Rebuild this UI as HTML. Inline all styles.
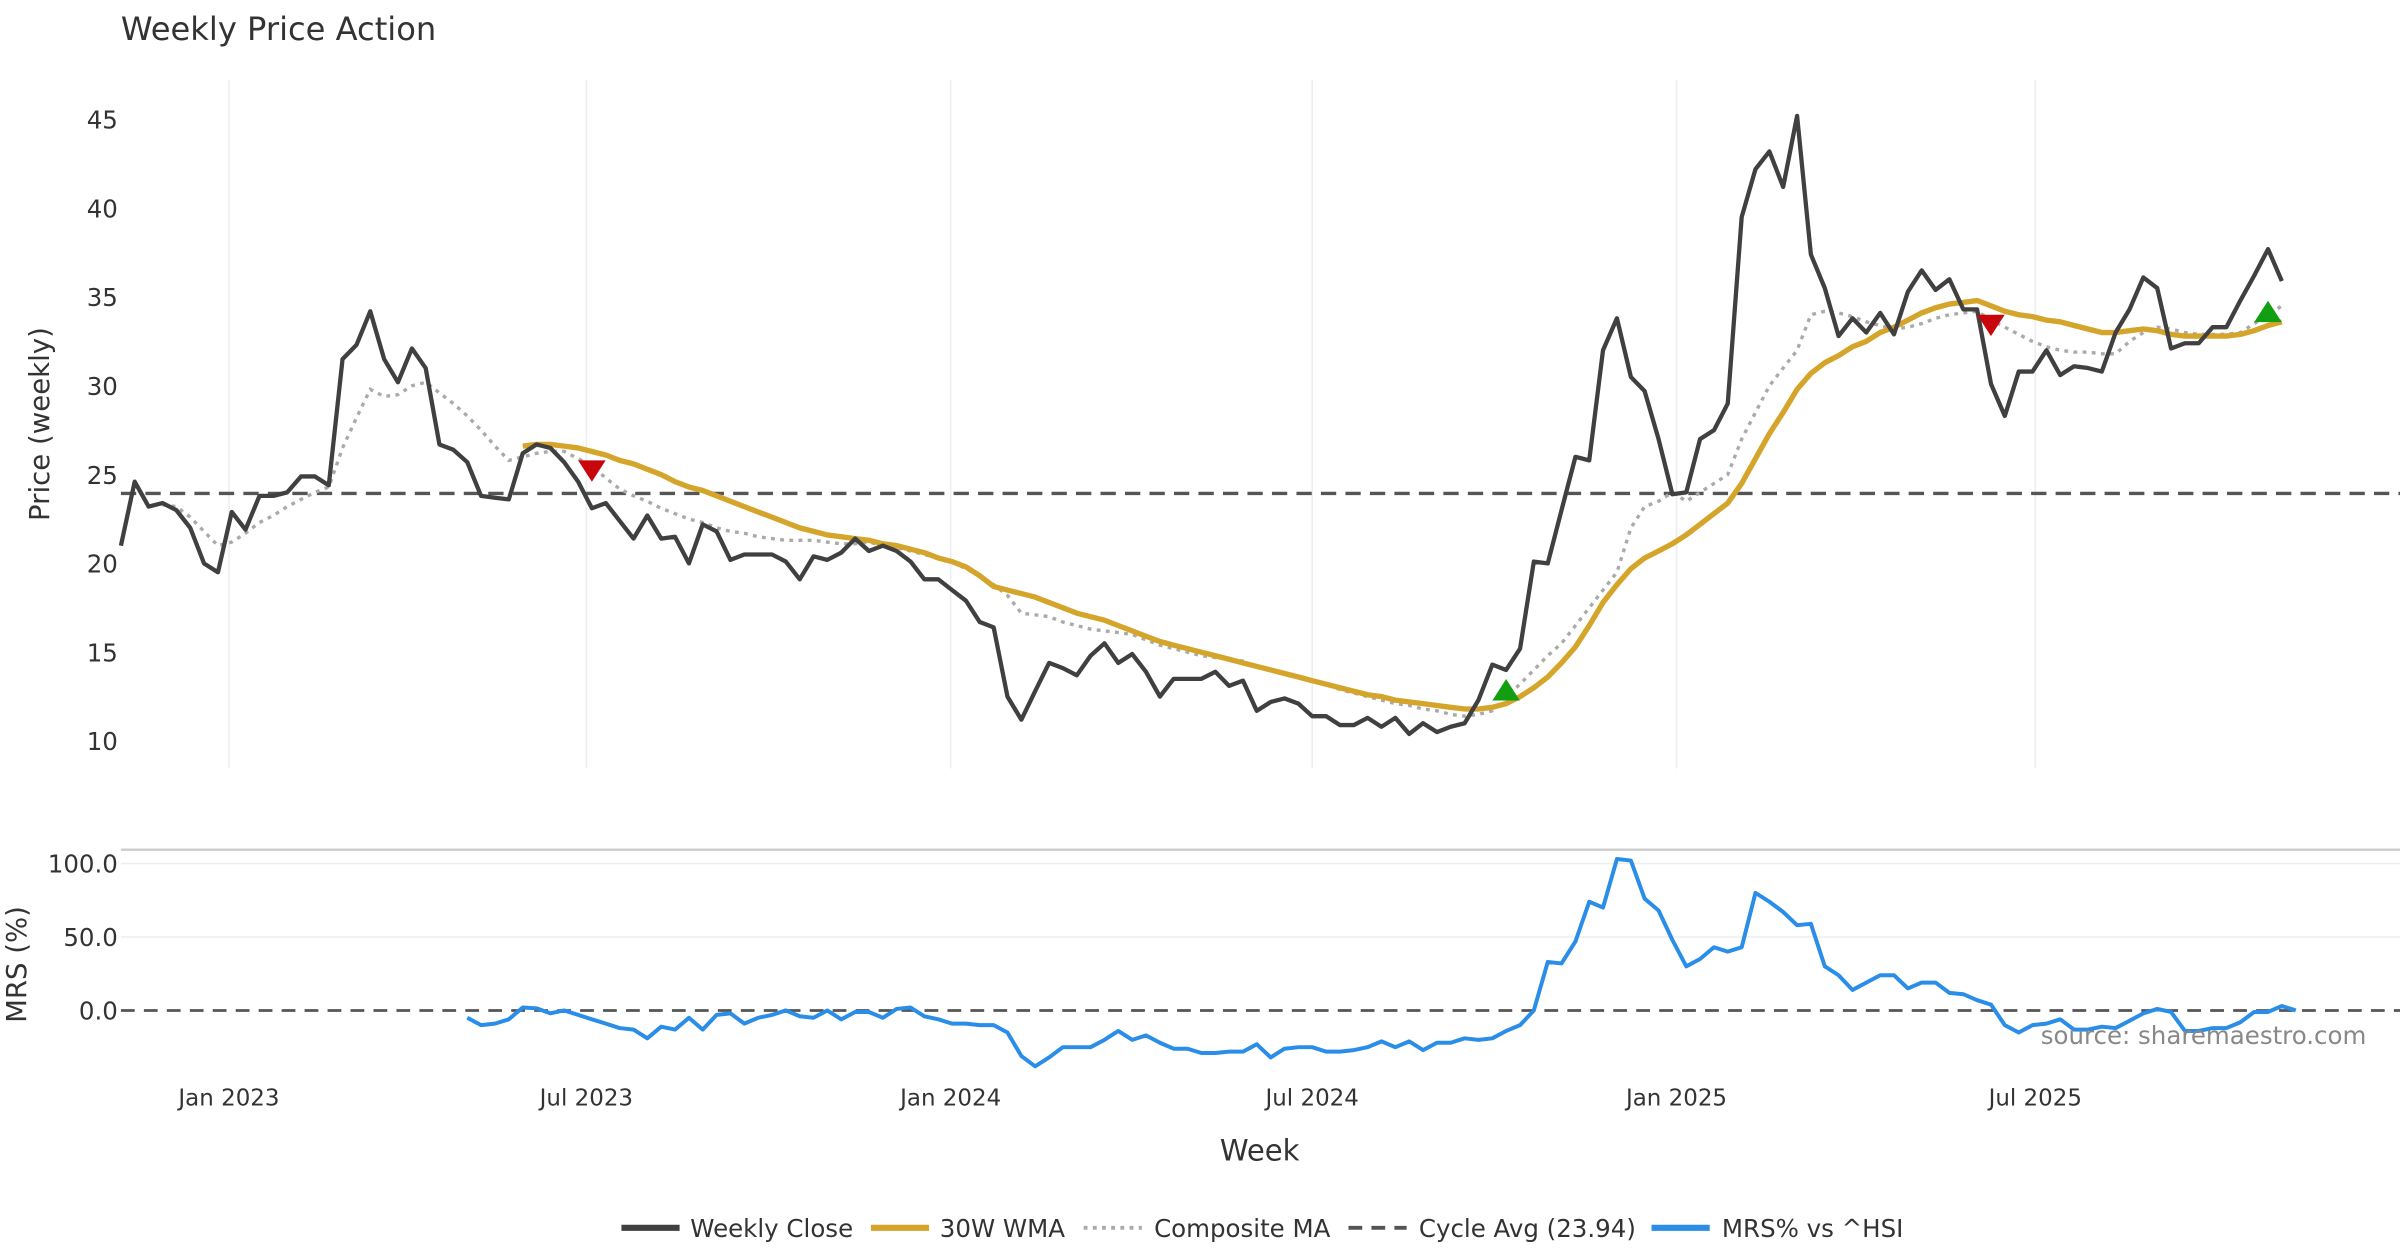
<!DOCTYPE html>
<html><head><meta charset="utf-8"><style>
html,body{margin:0;padding:0;background:#fff;}
svg{display:block;font-family:"DejaVu Sans","Liberation Sans",sans-serif;}
</style></head><body>
<svg id="chart" width="2400" height="1260" viewBox="0 0 1568 823" preserveAspectRatio="none" xmlns="http://www.w3.org/2000/svg">
<text x="79" y="26" font-size="21" fill="#333">Weekly Price Action</text>
<g id="grid"></g>
<g id="series"></g>
<text transform="translate(32,277) rotate(-90)" text-anchor="middle" font-size="18" fill="#333">Price (weekly)</text>
<text transform="translate(17,630) rotate(-90)" text-anchor="middle" font-size="18" fill="#333">MRS (%)</text>
<text x="823" y="758" text-anchor="middle" font-size="19" fill="#333">Week</text>
<text x="1546" y="682" text-anchor="end" font-size="16" fill="#888">source: sharemaestro.com</text>
<g id="legend"></g>
</svg>
<script>
const closes=[21,24.6,23.2,23.4,23,22,20,19.5,22.9,21.9,23.8,23.8,24,24.9,24.9,24.4,31.5,32.3,34.2,31.5,30.2,32.1,31,26.7,26.4,25.7,23.8,23.7,23.6,26.2,26.7,26.5,25.7,24.6,23.1,23.4,22.4,21.4,22.7,21.4,21.5,20,22.2,21.8,20.2,20.5,20.5,20.5,20.1,19.1,20.4,20.2,20.6,21.4,20.7,21,20.7,20.1,19.1,19.1,18.5,17.9,16.7,16.4,12.5,11.2,12.8,14.4,14.1,13.7,14.8,15.5,14.4,14.9,13.9,12.5,13.5,13.5,13.5,13.9,13.1,13.4,11.7,12.2,12.4,12.1,11.4,11.4,10.9,10.9,11.3,10.8,11.3,10.4,11,10.5,10.8,11,12.3,14.3,14,15.2,20.1,20,23,26,25.8,32,33.8,30.5,29.7,27,23.9,24,27,27.5,29,39.5,42.2,43.2,41.2,45.2,37.4,35.5,32.8,33.8,33,34.1,32.9,35.3,36.5,35.4,36,34.3,34.3,30.1,28.3,30.8,30.8,32,30.6,31.1,31,30.8,33,34.3,36.1,35.5,32.1,32.4,32.4,33.3,33.3,34.8,36.2,37.7,35.9];
const wma=[null,null,null,null,null,null,null,null,null,null,null,null,null,null,null,null,null,null,null,null,null,null,null,null,null,null,null,null,null,26.6,26.7,26.7,26.6,26.5,26.3,26.1,25.8,25.6,25.3,25,24.6,24.3,24.1,23.8,23.5,23.2,22.9,22.6,22.3,22,21.8,21.6,21.5,21.4,21.3,21.1,21,20.8,20.6,20.3,20.1,19.8,19.3,18.7,18.5,18.3,18.1,17.8,17.5,17.2,17,16.8,16.5,16.2,15.9,15.6,15.4,15.2,15,14.8,14.6,14.4,14.2,14,13.8,13.6,13.4,13.2,13,12.8,12.6,12.5,12.3,12.2,12.1,12,11.9,11.8,11.8,11.9,12.1,12.5,13,13.6,14.4,15.3,16.5,17.8,18.8,19.7,20.3,20.7,21.1,21.6,22.2,22.8,23.4,24.5,25.9,27.3,28.5,29.8,30.7,31.3,31.7,32.2,32.5,33,33.3,33.7,34.1,34.4,34.6,34.7,34.8,34.5,34.2,34,33.9,33.7,33.6,33.4,33.2,33,33,33.1,33.2,33.1,32.9,32.8,32.8,32.8,32.8,32.9,33.1,33.4,33.6];
const compMA=[null,null,null,23.3,23.2,22.6,21.8,21,21.2,21.7,22.3,22.7,23.2,23.6,24,24.3,26.5,28.2,29.8,29.4,29.5,30,30.2,29.6,29,28.3,27.5,26.6,25.8,26,26.2,26.3,26.3,25.9,25.5,24.8,24.2,23.8,23.5,23.1,22.8,22.5,22.3,22,21.8,21.7,21.5,21.4,21.3,21.3,21.3,21.2,21.1,21.1,21.2,21,20.9,20.7,20.5,20.3,20.1,19.7,19.3,18.8,18.2,17.2,17.1,17,16.7,16.5,16.3,16.2,16.1,16,15.7,15.4,15.2,15,14.8,14.7,14.6,14.5,14.2,14,13.8,13.6,13.4,13.2,12.9,12.7,12.5,12.3,12.1,12,11.8,11.7,11.5,11.4,11.5,11.7,12.5,13.2,14,14.8,15.5,16.5,17.5,18.5,19.5,22,23.2,23.5,24,23.5,24,24.5,25,27,28.5,30,31,32,34,34.2,34.1,33.9,33.6,33.4,33.2,33.3,33.5,33.8,34,34.1,34.2,33.7,33.3,32.9,32.5,32.2,32,31.9,31.9,31.8,31.8,32.5,33,33.3,33.2,33,32.9,32.9,32.9,33,33.5,34,34.5];
const mrs=[null,null,null,null,null,null,null,null,null,null,null,null,null,null,null,null,null,null,null,null,null,null,null,null,null,-5,-10,-9,-6,2,1.5,-2,0,-3,-6,-9,-12,-13,-19,-11,-13,-5,-13,-3,-2,-9,-5,-3,0,-4,-5,0,-6,-1,-1,-5,1,2,-4,-6,-9,-9,-10,-10,-15,-31,-38,-32,-25,-25,-25,-20,-14,-20,-17,-22,-26,-26,-29,-29,-28,-28,-23,-32,-26,-25,-25,-28,-28,-27,-25,-21,-25,-21,-27,-22,-22,-19,-20,-19,-14,-10,0,33,32,47,74,70,103,102,76,68,48,30,35,43,40,43,80,74,67,58,59,30,24,14,19,24,24,15,19,19,12,11,7,4,-10,-15,-10,-9,-6,-13,-13,-11,-12,-7,-2,1,-1,-14,-14,-12,-12,-8,-1,-1,3,0];
const cycleAvg=[23.94];
const buyIdx=[100,155];
const sellIdx=[34,135];
const priceTicks=[10,15,20,25,30,35,40,45];
const mrsTicks=[0,50,100];
const dateTickIdx=[7.8,33.6,59.9,86,112.3,138.2];
const dateTickLabels=["Jan 2023","Jul 2023","Jan 2024","Jul 2024","Jan 2025","Jul 2025"];

const NS="http://www.w3.org/2000/svg";
const X0=79,DX=9.05;
function xs(i){return X0+i*DX;}
function yp(v){return 484-(v-10)*11.6;}
function ym(v){return 660-v*0.96;}
function mk(tag,attrs,parent){const e=document.createElementNS(NS,tag);for(const k in attrs)e.setAttribute(k,attrs[k]);parent.appendChild(e);return e;}
const grid=document.getElementById('grid'),ser=document.getElementById('series'),leg=document.getElementById('legend');

dateTickIdx.forEach((t,k)=>{
  const x=xs(t);
  const g=mk('line',{x1:x,x2:x,y1:52,y2:502,stroke:'#eceef2','stroke-width':1},grid);
  
  
  const tx=mk('text',{x:x,y:722,'text-anchor':'middle','font-size':15,fill:'#333'},grid);
  tx.textContent=dateTickLabels[k];
  
  
});
priceTicks.forEach(v=>{
  const tx=mk('text',{x:77,y:yp(v)+6,'text-anchor':'end','font-size':16,fill:'#333'},grid);
  tx.textContent=v;
  
  
});
mk('line',{x1:79,x2:1568,y1:555,y2:555,stroke:'#ccc','stroke-width':1.5},grid);
mrsTicks.forEach(v=>{
  if(v!==0){const l=mk('line',{x1:79,x2:1568,y1:ym(v),y2:ym(v),stroke:'#eceef2','stroke-width':1},grid);
  
  }
  const tx=mk('text',{x:77,y:ym(v)+6,'text-anchor':'end','font-size':16,fill:'#333'},grid);
  tx.textContent=v.toFixed(1);
  
  
});
const cy=mk('line',{x1:79,x2:1568,y1:yp(cycleAvg[0]),y2:yp(cycleAvg[0]),stroke:'#555','stroke-width':2.2,'stroke-dasharray':'10,6'},ser);


const z=mk('line',{x1:79,x2:1568,y1:ym(0),y2:ym(0),stroke:'#555','stroke-width':1.8,'stroke-dasharray':'9,6'},ser);



function path(arr,yf){let d='';let pen=false;arr.forEach((v,i)=>{if(v===null){pen=false;return;}d+=(pen?'L':'M')+xs(i).toFixed(1)+','+yf(v).toFixed(1)+' ';pen=true;});return d;}
const pc=mk('path',{d:path(compMA,yp),fill:'none',stroke:'#aaa','stroke-width':2.2,'stroke-dasharray':'2.5,3.5'},ser);


const pw=mk('path',{d:path(wma,yp),fill:'none',stroke:'#d4a52a','stroke-width':3.5,'stroke-linejoin':'round'},ser);


const pcl=mk('path',{d:path(closes,yp),fill:'none',stroke:'#404040','stroke-width':2.8,'stroke-linejoin':'round'},ser);


const pm=mk('path',{d:path(mrs,ym),fill:'none',stroke:'#2a8de8','stroke-width':2.6,'stroke-linejoin':'round'},ser);



sellIdx.forEach(i=>{
  const x=xs(i),y=yp(wma[i]!==null?wma[i]-1.1:closes[i]);
  const t=mk('polygon',{points:`${x-9},${y-7} ${x+9},${y-7} ${x},${y+7}`,fill:'#c8070d'},ser);
  
  
});
buyIdx.forEach(i=>{
  const x=xs(i),y=yp(wma[i]+0.7);
  const t=mk('polygon',{points:`${x-9},${y+6} ${x+9},${y+6} ${x},${y-8}`,fill:'#119e11'},ser);
  
  
});

const items=[["Weekly Close","#404040",null,406,451],["30W WMA","#d4a52a",null,569,614],["Composite MA","#aaa","2.5,3.5",708,754],["Cycle Avg (23.94)","#555","9,6",881,927],["MRS% vs ^HSI","#2a8de8",null,1079,1125]];
items.forEach(it=>{
  const l=mk('line',{x1:it[3],x2:it[3]+38,y1:802,y2:802,stroke:it[1],'stroke-width':it[2]?2.5:4},leg);
  if(it[2])l.setAttribute('stroke-dasharray',it[2]);
  
  
  const t=mk('text',{x:it[4],y:808,'font-size':16,fill:'#333'},leg);
  t.textContent=it[0];
  
  
});
</script>
</body></html>
